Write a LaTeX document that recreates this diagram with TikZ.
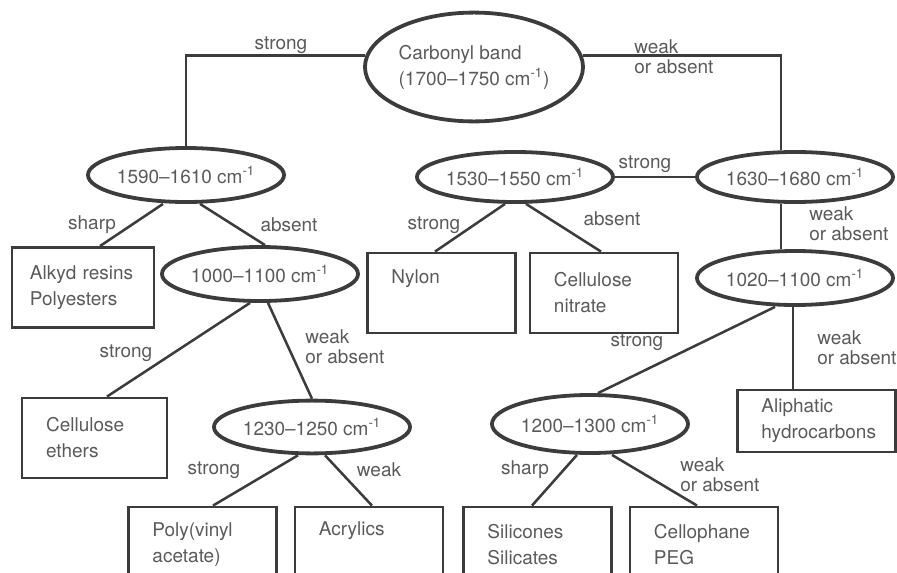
\documentclass[tikz,border=0pt]{standalone}
\usepackage{fontspec}
\setmainfont{TeX Gyre Heros}
\usepackage{tikz}
\usetikzlibrary{shapes.geometric}
\definecolor{inkline}{HTML}{3C3C3C}
\definecolor{inktext}{HTML}{5A5A5A}

\begin{document}
\begin{tikzpicture}[
    x=0.025cm, y=-0.025cm,
    every node/.style={font=\fontsize{13.5}{18.5}\selectfont, text=inktext},
    band/.style={ellipse, draw=inkline, line width=2.7pt, inner sep=0pt,
                 minimum width=4.9cm, minimum height=1.35cm},
    leaf/.style={rectangle, draw=inkline, line width=2pt, align=left,
                 inner xsep=0.6cm, inner ysep=0pt, text width=2.5cm, minimum height=2cm},
    link/.style={draw=inkline, line width=1.8pt},
    lbl/.style={font=\fontsize{13.5}{14}\selectfont, align=left, inner sep=0pt}
  ]
  \useasboundingbox (0,0) rectangle (897,573);
  \clip (0,0) rectangle (897,573);

  % ---- bandes testees (ellipses) ----------------------------------------
  \node[band, minimum width=5.45cm, minimum height=2.72cm, align=left] (carb) at (474,67)
    {Carbonyl band\\(1700--1750 cm\textsuperscript{-1})};
  \node[band] (e1590) at (186,175) {1590--1610 cm\textsuperscript{-1}};
  \node[band] (e1000) at (260,274) {1000--1100 cm\textsuperscript{-1}};
  \node[band, minimum height=1.32cm] (e1230) at (312,427) {1230--1250 cm\textsuperscript{-1}};
  \node[band, minimum height=1.25cm] (e1530) at (515,177) {1530--1550 cm\textsuperscript{-1}};
  \node[band, minimum height=1.25cm] (e1630) at (795,177) {1630--1680 cm\textsuperscript{-1}};
  \node[band] (e1020) at (795,278) {1020--1100 cm\textsuperscript{-1}};
  \node[band, minimum height=1.45cm] (e1200) at (590,424) {1200--1300 cm\textsuperscript{-1}};

  % ---- resultats (boites) -----------------------------------------------
  \node[leaf, inner xsep=0.45cm, text width=2.65cm] (alkyd) at (83,287.5) {Alkyd resins\\Polyesters};
  \node[leaf, text width=2.42cm] (celleth) at (94.5,438) {Cellulose\\ethers};
  \node[leaf, minimum height=1.9cm] (polyva) at (202.5,545) {Poly(vinyl\\acetate)};
  \node[leaf, minimum height=1.9cm] (acryl) at (369,545) {Acrylics\\\strut};
  \node[leaf] (nylon) at (441.5,293) {Nylon\\\strut};
  \node[leaf] (cellnit) at (604,293) {Cellulose\\nitrate};
  \node[leaf, text width=2.75cm, minimum height=1.55cm] (aliph) at (816.5,421) {Aliphatic\\hydrocarbons};
  \node[leaf, minimum height=1.9cm] (silic) at (537.5,545) {Silicones\\Silicates};
  \node[leaf, minimum height=1.9cm] (cello) at (704,545) {Cellophane\\PEG};

  % ---- branches ---------------------------------------------------------
  \draw[link] (carb.174) -- (e1590.north |- carb.174) -- (e1590.north);
  \draw[link] (carb.6) -| ([shift={(-14,0)}]e1630.north);
  \draw[link] ([shift={(-23,0)}]e1590.south) -- ([shift={(17,0)}]alkyd.north);
  \draw[link] ([shift={(14,0)}]e1590.south) -- ([shift={(5,0)}]e1000.north);
  \draw[link] ([shift={(-10,0)}]e1000.south) -- ([shift={(12.5,0)}]celleth.north);
  \draw[link] ([shift={(8,0)}]e1000.south) -- (e1230.north);
  \draw[link] ([shift={(-14,0)}]e1230.south) -- ([shift={(10.5,0)}]polyva.north);
  \draw[link] ([shift={(13,0)}]e1230.south) -- ([shift={(3,0)}]acryl.north);
  \draw[link] ([shift={(-10,0)}]e1530.south) -- ([shift={(-6.5,0)}]nylon.north);
  \draw[link] ([shift={(11,0)}]e1530.south) -- ([shift={(-3,0)}]cellnit.north);
  \draw[link] (e1530.east) -- (e1630.west);
  \draw[link] ([shift={(-14,0)}]e1630.south) -- ([shift={(-14,0)}]e1020.north);
  \draw[link] ([shift={(-20,0)}]e1020.south) -- ([shift={(8,0)}]e1200.north);
  \draw[link] ([shift={(-2,0)}]e1020.south) -- ([shift={(-2,0)}]e1020.south |- aliph.north);
  \draw[link] ([shift={(-13,0)}]e1200.south) -- ([shift={(-5.5,0)}]silic.north);
  \draw[link] ([shift={(22,0)}]e1200.south) -- ([shift={(-7,0)}]cello.north);

  % ---- intensites sur les branches --------------------------------------
  \node[lbl] (l0a) at (281,45) {strong};
  \node[lbl, anchor=west] (l0b) at (634,57) {weak\\or absent};
  \node[lbl] (l1a) at (92,225) {sharp};
  \node[lbl] (l1b) at (289,225) {absent};
  \node[lbl] (l2a) at (126,353) {strong};
  \node[lbl, anchor=west] (l2b) at (305,347) {weak\\or absent};
  \node[lbl] (l3a) at (214,470) {strong};
  \node[lbl] (l3b) at (379,470) {weak};
  \node[lbl] (l4a) at (434,225) {strong};
  \node[lbl] (l4b) at (612,219) {absent};
  \node[lbl] (l5) at (645,164) {strong};
  \node[lbl, anchor=west] (l6) at (809,224) {weak\\or absent};
  \node[lbl] (l7a) at (637,342) {strong};
  \node[lbl, anchor=west] (l7b) at (817,348) {weak\\or absent};
  \node[lbl] (l8a) at (525,470) {sharp};
  \node[lbl, anchor=west] (l8b) at (680,475) {weak\\or absent};

\end{tikzpicture}
\end{document}
